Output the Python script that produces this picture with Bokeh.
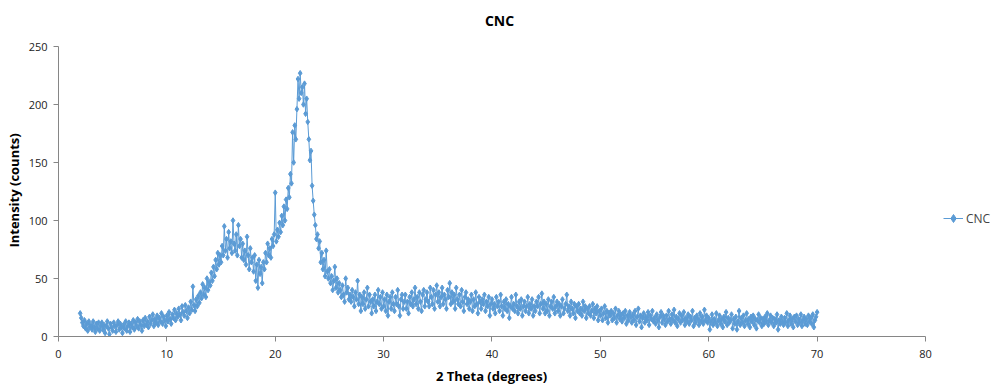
from bokeh.plotting import figure
from bokeh.models import Range1d, Legend, LegendItem, FixedTicker, Label
from bokeh.embed import file_html
from bokeh.resources import INLINE

# 2-theta positions (degrees), step 0.1 from 2.0 to 70.0; one row per degree
theta_start = 2.0
theta_step = 0.1
intensity = [
    20, 16, 12, 9, 14, 7, 11, 5, 13, 8,
    10, 6, 13, 8, 4, 11, 7, 12, 5, 9,
    12, 6, 10, 3, 9, 13, 7, 2, 11, 8,
    5, 12, 9, 4, 10, 13, 6, 11, 8, 3,
    10, 7, 13, 5, 9, 12, 4, 11, 8, 14,
    6, 12, 9, 15, 7, 13, 10, 5, 14, 9,
    16, 10, 13, 8, 17, 11, 14, 19, 9, 15,
    12, 18, 10, 16, 13, 20, 11, 17, 14, 9,
    18, 13, 21, 15, 11, 19, 16, 23, 14, 20,
    17, 24, 19, 14, 26, 21, 18, 27, 22, 16,
    25, 20, 30, 23, 43, 27, 22, 32, 26, 35,
    29, 38, 33, 45, 36, 42, 34, 50, 40, 47,
    44, 55, 48, 60, 52, 66, 58, 72, 62, 70,
    64, 78, 70, 95, 74, 84, 68, 90, 76, 82,
    72, 100, 80, 74, 88, 70, 96, 78, 84, 68,
    80, 66, 74, 62, 86, 70, 58, 76, 64, 68,
    56, 70, 48, 62, 42, 66, 54, 60, 46, 64,
    58, 72, 64, 80, 70, 76, 68, 84, 78, 88,
    124, 82, 92, 86, 98, 90, 104, 96, 112, 100,
    118, 110, 128, 120, 140, 132, 176, 150, 182, 170,
    196, 222, 205, 227, 210, 215, 200, 218, 192, 205,
    185, 170, 152, 160, 130, 117, 105, 96, 84, 88,
    76, 82, 64, 72, 58, 66, 52, 74, 56, 50,
    58, 46, 52, 40, 48, 60, 42, 50, 38, 46,
    40, 34, 44, 36, 30, 50, 38, 42, 32, 36,
    30, 40, 34, 26, 38, 32, 48, 28, 36, 22,
    34, 28, 38, 24, 32, 42, 26, 36, 30, 20,
    32, 26, 36, 22, 30, 40, 28, 34, 24, 38,
    26, 32, 22, 36, 18, 30, 34, 24, 38, 28,
    22, 34, 28, 40, 26, 18, 32, 36, 24, 30,
    36, 24, 30, 20, 34, 28, 38, 26, 32, 42,
    28, 34, 24, 38, 30, 22, 36, 40, 26, 32,
    38, 30, 26, 42, 34, 28, 40, 24, 36, 44,
    30, 38, 26, 34, 42, 28, 36, 32, 24, 40,
    34, 46, 28, 38, 30, 36, 24, 42, 32, 28,
    36, 26, 40, 30, 22, 34, 38, 28, 32, 24,
    30, 36, 22, 32, 26, 38, 28, 20, 34, 30,
    24, 32, 28, 36, 22, 30, 26, 34, 18, 28,
    32, 24, 28, 20, 34, 26, 30, 22, 36, 26,
    18, 30, 24, 32, 22, 28, 16, 26, 34, 24,
    28, 22, 36, 26, 20, 30, 24, 32, 18, 26,
    30, 22, 26, 34, 20, 28, 24, 32, 18, 26,
    22, 30, 26, 34, 20, 28, 37, 24, 30, 20,
    28, 22, 32, 18, 26, 30, 24, 34, 20, 26,
    30, 22, 28, 18, 26, 32, 20, 24, 28, 36,
    22, 26, 18, 30, 24, 20, 28, 16, 26, 22,
    28, 20, 24, 18, 30, 22, 26, 16, 24, 20,
    26, 18, 22, 28, 16, 24, 20, 26, 14, 22,
    18, 24, 14, 20, 26, 16, 22, 12, 20, 18,
    22, 14, 20, 16, 24, 12, 18, 22, 15, 19,
    13, 20, 16, 22, 11, 18, 14, 21, 17, 12,
    19, 14, 22, 10, 17, 24, 13, 18, 8, 16,
    20, 12, 17, 14, 21, 10, 18, 15, 22, 13,
    16, 11, 19, 14, 8, 17, 21, 12, 18, 15,
    10, 18, 13, 22, 15, 11, 19, 14, 23, 12,
    17, 9, 15, 20, 12, 18, 14, 21, 10, 16,
    13, 19, 11, 17, 14, 22, 9, 16, 12, 18,
    15, 10, 20, 13, 17, 11, 23, 14, 18, 12,
    16, 6, 13, 19, 10, 15, 12, 20, 9, 14,
    18, 11, 15, 8, 17, 13, 21, 10, 16, 12,
    14, 19, 7, 15, 11, 17, 6, 13, 22, 10,
    16, 12, 18, 9, 14, 20, 11, 15, 8, 17,
    13, 18, 10, 15, 7, 14, 19, 12, 16, 9,
    15, 11, 17, 13, 20, 10, 14, 18, 12, 16,
    9, 15, 12, 19, 6, 14, 11, 17, 13, 10,
    16, 12, 20, 9, 14, 18, 11, 15, 8, 17,
    13, 18, 10, 15, 12, 19, 9, 14, 17, 11,
    15, 10, 18, 13, 16, 11, 19, 8, 14, 17,
    21,
]
two_theta = [round(theta_start + i * theta_step, 2) for i in range(len(intensity))]

x_ticks = [0, 10, 20, 30, 40, 50, 60, 70, 80]
y_ticks = [0, 50, 100, 150, 200, 250]
x_axis_span = (0, 80)
y_axis_span = (0, 250)
series_name = "CNC"
chart_title = "CNC"
x_title = "2 Theta (degrees)"
y_title = "Intensity (counts)"

BLUE = "#5B9BD5"
GRAY = "#868686"
FONT = "Open Sans"
NBSP = "\u00a0"

# the plotting frame is widened past the axis spans so that the title and
# legend (which sit outside the axes in the reference) are drawn inside it
p = figure(width=995, height=387, output_backend="svg", toolbar_location=None,
           title=None,
           x_range=Range1d(0, 86.46), y_range=Range1d(0, 289.66),
           min_border_left=58, min_border_right=0, min_border_top=0, min_border_bottom=51)

p.xgrid.visible = False
p.ygrid.visible = False
p.outline_line_color = None

for ax in (p.xaxis[0], p.yaxis[0]):
    ax.axis_line_color = GRAY
    ax.major_tick_line_color = GRAY
    ax.minor_tick_line_color = None
    ax.major_tick_in = 0
    ax.major_tick_out = 5
    ax.major_label_text_font = FONT
    ax.major_label_text_font_size = "11px"
    ax.major_label_text_color = "#222222"
    ax.major_label_text_line_height = 1.0
    ax.axis_label_text_font = FONT
    ax.axis_label_text_font_size = "13px"
    ax.axis_label_text_font_style = "bold"
    ax.axis_label_text_color = "#000000"
    ax.axis_label_text_line_height = 1.0

p.xaxis.ticker = FixedTicker(ticks=x_ticks)
p.yaxis.ticker = FixedTicker(ticks=y_ticks)
p.xaxis.bounds = x_axis_span
p.yaxis.bounds = y_axis_span
# axis titles are centred on the (widened) frame; trailing no-break spaces
# move the visible words back to the centre of the axis spans
p.xaxis.axis_label = x_title + NBSP * 21
p.yaxis.axis_label = y_title + NBSP * 13
p.xaxis.major_label_standoff = 8
p.xaxis.axis_label_standoff = 6
p.yaxis.major_label_standoff = 6
p.yaxis.axis_label_standoff = 3

ln = p.line(two_theta, intensity, line_color=BLUE, line_width=1)
sc = p.scatter(two_theta, intensity, marker="diamond", size=5.5,
               fill_color=BLUE, line_color=BLUE)

title_label = Label(x=441, y=316, x_units="screen", y_units="screen", text=chart_title,
                    text_align="center", text_baseline="middle", text_font=FONT,
                    text_font_size="14px", text_font_style="bold", text_color="#000000")
p.add_layout(title_label)

legend = Legend(items=[LegendItem(label=series_name, renderers=[ln, sc])],
                location=(885, 108), border_line_color=None,
                background_fill_alpha=0, label_text_font=FONT,
                label_text_font_size="12px", glyph_width=20, label_standoff=3,
                padding=2, margin=0)
p.add_layout(legend)

open("out.html", "w").write(file_html(p, INLINE))
